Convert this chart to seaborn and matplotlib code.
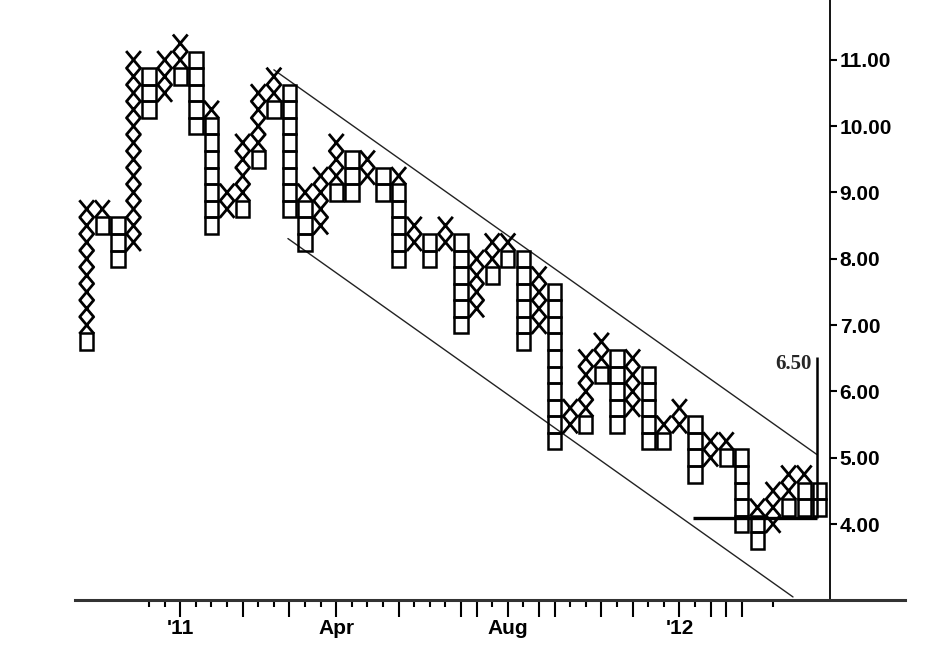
import numpy as np
import pandas as pd
import matplotlib
matplotlib.use("Agg")
import matplotlib.pyplot as plt
import seaborn as sns
from matplotlib.path import Path

sns.set_style("white")
plt.rcParams['font.family'] = ['Liberation Sans', 'DejaVu Sans']

box = 0.25
nan = np.nan

# point & figure columns: X run and O (box) run per column
x_lo = [7.0, 8.75, nan, 8.25, nan, 10.5, 11.0, nan, 10.25, 8.75,
        9.0, 9.75, 10.5, nan, 9.0, 8.5, 9.25, nan, 9.25, nan,
        9.25, 8.25, nan, 8.25, nan, 7.25, 8.0, 8.25, nan, 7.0,
        nan, 5.5, 5.75, 6.5, nan, 5.75, nan, 5.5, 5.5, nan,
        5.0, 5.25, nan, 4.25, 4.0, 4.5, 4.75, nan]
x_hi = [8.75, 8.75, nan, 11.0, nan, 11.0, 11.25, nan, 10.25, 9.0,
        9.75, 10.5, 10.75, nan, 9.0, 9.25, 9.75, nan, 9.5, nan,
        9.25, 8.5, nan, 8.5, nan, 8.0, 8.25, 8.25, nan, 7.75,
        nan, 5.75, 6.5, 6.75, nan, 6.5, nan, 5.5, 5.75, nan,
        5.25, 5.25, nan, 4.25, 4.5, 4.75, 4.75, nan]
o_lo = [6.75, 8.5, 8.0, nan, 10.25, nan, 10.75, 10.0, 8.5, nan,
        8.75, 9.5, 10.25, 8.75, 8.25, nan, 9.0, 9.0, nan, 9.0,
        8.0, nan, 8.0, nan, 7.0, nan, 7.75, 8.0, 6.75, nan,
        5.25, nan, 5.5, 6.25, 5.5, nan, 5.25, 5.25, nan, 4.75,
        nan, 5.0, 4.0, 3.75, nan, 4.25, 4.25, 4.25]
o_hi = [6.75, 8.5, 8.5, nan, 10.75, nan, 10.75, 11.0, 10.0, nan,
        8.75, 9.5, 10.25, 10.5, 8.75, nan, 9.0, 9.5, nan, 9.25,
        9.0, nan, 8.25, nan, 8.25, nan, 7.75, 8.0, 8.0, nan,
        7.5, nan, 5.5, 6.25, 6.5, nan, 6.25, 5.25, nan, 5.5,
        nan, 5.0, 5.0, 4.0, nan, 4.25, 4.5, 4.5]

# channel lines and price target
upper_line_x = [12.0, 46.8]
upper_line_y = [10.85, 5.05]
lower_line_x = [12.9, 45.28]
lower_line_y = [8.305, 2.90]
base_x = [38.9, 46.85]
base_y = 4.09
target_col = 46.8
target_price = 6.50

y_ticks = [4, 5, 6, 7, 8, 9, 10, 11]
long_ticks = [6, 10, 13, 16, 20, 24, 25, 27, 29, 30, 33, 35, 38, 40, 41, 42]
short_ticks = [4, 5, 7, 8, 9, 11, 12, 14, 15, 17, 18, 19, 21, 22, 23, 26,
               28, 31, 32, 34, 36, 37, 39, 44]
month_labels = {6: "'11", 16: "Apr", 27: "Aug", 38: "'12"}


def expand(lo, hi):
    rows = []
    for col, (a, b) in enumerate(zip(lo, hi)):
        if np.isnan(a):
            continue
        for p in np.arange(a, b + box / 2, box):
            rows.append((col, p))
    return pd.DataFrame(rows, columns=['col', 'price'])


xs = expand(x_lo, x_hi)
os_ = expand(o_lo, o_hi)

fig = plt.figure(figsize=(9.42, 6.46), dpi=100)
ax = fig.add_axes([75 / 942, 46 / 646, 830 / 942, 600 / 646])

# O boxes
ax.bar(os_['col'], box, bottom=os_['price'] - box / 2, width=0.85,
       facecolor='none', edgecolor='black', linewidth=1.8, zorder=3)

# X marks
xmark = Path([(-0.42, -0.5), (0.42, 0.5), (-0.42, 0.5), (0.42, -0.5)],
             [Path.MOVETO, Path.LINETO, Path.MOVETO, Path.LINETO])
sns.scatterplot(data=xs, x='col', y='price', marker=xmark, s=160,
                facecolor='none', edgecolor='black', linewidth=2.0,
                legend=False, ax=ax, zorder=4)

ax.plot(upper_line_x, upper_line_y, color='#222222', lw=1.0, zorder=2)
ax.plot(lower_line_x, lower_line_y, color='#222222', lw=1.0, zorder=2)
ax.plot(base_x, [base_y, base_y], color='black', lw=2.4, zorder=5,
        solid_capstyle='butt')
ax.plot([target_col, target_col], [base_y, target_price + 0.02],
        color='black', lw=1.8, zorder=5, solid_capstyle='butt')
ax.text(target_col - 0.3, target_price - 0.08, f"{target_price:.2f}",
        ha='right', va='center', fontsize=15, fontweight='bold',
        family=['Liberation Serif', 'DejaVu Serif'])

ax.set_xlim(-0.75, 52.46)
ax.set_ylim(2.854, 11.903)
ax.set_xlabel('')
ax.set_ylabel('')

for s in ['left', 'top']:
    ax.spines[s].set_visible(False)
ax.spines['bottom'].set_linewidth(2.2)
ax.spines['bottom'].set_color('#333333')
ax.spines['right'].set_position(('data', 47.65))
ax.spines['right'].set_linewidth(1.3)
ax.spines['right'].set_color('black')

ax.yaxis.tick_right()
ax.set_yticks(y_ticks)
ax.set_yticklabels([f"{v:.2f}" for v in y_ticks])
ax.tick_params(axis='y', right=True, direction='out', length=5, width=1.5,
               labelsize=15, pad=2, colors='black')

ax.set_xticks(long_ticks)
ax.set_xticklabels([month_labels.get(c, '') for c in long_ticks])
ax.set_xticks(short_ticks, minor=True)
ax.tick_params(axis='x', which='major', bottom=True, direction='out',
               length=12, width=1.5, labelsize=15, pad=2, colors='black')
ax.tick_params(axis='x', which='minor', bottom=True, direction='out',
               length=5, width=1.5, colors='black')

for lbl in ax.get_xticklabels() + ax.get_yticklabels():
    lbl.set_fontweight('bold')

ax.grid(False)
fig.savefig('out.png', dpi=100)
